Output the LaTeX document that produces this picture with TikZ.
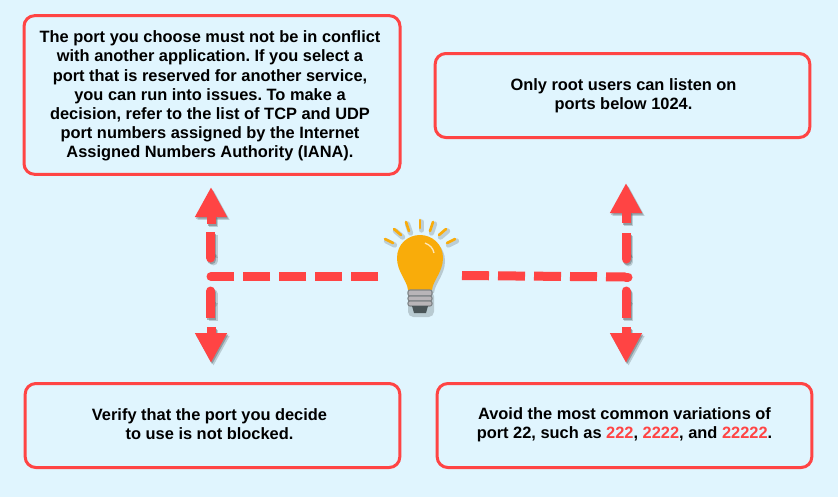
\documentclass[tikz,border=0pt]{standalone}
\usepackage{fontspec}
\setmainfont{Liberation Sans}
\usetikzlibrary{arrows.meta}
\definecolor{bg}{HTML}{E0F5FE}
\definecolor{redc}{HTML}{FF4444}
\definecolor{bulb}{HTML}{F9AC0A}
\definecolor{socket}{HTML}{B9B5B8}
\definecolor{sockline}{HTML}{7F8487}
\definecolor{capc}{HTML}{4A5558}
\tikzset{
  msgbox/.style={draw=redc,line width=2.25pt,rounded corners=8pt,fill=bg,inner sep=0pt},
  msgtext/.style={inner sep=0pt,align=center,font=\fontsize{12.3pt}{14.4pt}\selectfont\bfseries\frenchspacing,text=black},
  seg/.style={draw=redc,line width=6.75pt},
  rnd/.style={seg,line cap=round},
  arr/.style={seg,-{Triangle[length=22.5pt,width=22.5pt]}},
  shadowa/.style={opacity=.3,transform canvas={xshift=1.9pt,yshift=-2.2pt}},
  shadowb/.style={opacity=.5,transform canvas={xshift=.8pt,yshift=-1.3pt}},
  ray/.style={draw=bulb,line width=2pt,line cap=round},
  rayshadow/.style={draw=black!45!bg,line width=4pt,line cap=round,opacity=.35},
}
\newcommand{\vparts}[1]{%
  \begin{scope}[#1]
    \draw[arr] (lua) -- (lup);
    \draw[arr] (lda) -- (ldn);
    \draw[seg] (lus) -- (lum); \draw[rnd] (lum) -- (lue);
    \draw[seg] (lde) -- (ldm); \draw[rnd] (ldm) -- (lds);
    \draw[arr] (rua) -- (rup);
    \draw[arr] (rda) -- (rdn);
    \draw[seg] (rus) -- (rum); \draw[rnd] (rum) -- (rue);
    \draw[seg] (rde) -- (rdm); \draw[rnd] (rdm) -- (rds);
  \end{scope}}
\newcommand{\globepath}{(408,290) .. controls (407,280) and (397,272) .. (397,258)
  .. controls (397,244) and (408,235) .. (420,235)
  .. controls (432,235) and (443,244) .. (443,258)
  .. controls (443,272) and (433,280) .. (432,290) -- cycle}
\begin{document}
\begin{tikzpicture}[x=0.75pt,y=-0.75pt]
\useasboundingbox (0,0) rectangle (838,497);
\fill[bg] (0,0) rectangle (838,497);

\node[msgbox,minimum width=282pt,minimum height=119pt] (tl) at (212,95) {};
\node[msgbox,minimum width=281pt,minimum height=63pt] (tr) at (622.5,95.5) {};
\node[msgbox,minimum width=281pt,minimum height=63pt] (bl) at (212.5,425.5) {};
\node[msgbox,minimum width=281pt,minimum height=63pt] (br) at (624.5,425.5) {};
\node[msgtext] (tltext) at (210,96)
 {The port you choose must not be in conflict\\with another application. If you select a\\port that is reserved for another service,\\you can run into issues. To make a\\decision, refer to the list of TCP and UDP\\port numbers assigned by the Internet\\Assigned Numbers Authority (IANA).};
\node[msgtext] (trtext) at (623.5,96)
 {Only root users can listen on\\ports below 1024.};
\node[msgtext] (bltext) at (209.5,424)
 {Verify that the port you decide\\to use is not blocked.};
\node[msgtext] (brtext) at (624.5,424.5)
 {Avoid the most common variations of\\port 22, such as \textcolor{redc}{222}, \textcolor{redc}{2222}, and \textcolor{redc}{22222}.};

% hub coordinates
\coordinate (hl) at (211,276.5);
\coordinate (hlm) at (212,276.5);
\coordinate (hle) at (378,276.5);
\coordinate (hrs) at (462,275.5);
\coordinate (hrm) at (626,277);
\coordinate (hre) at (628,277);
% left verticals
\coordinate (lup) at (211,187); \coordinate (lua) at (211,224);
\coordinate (lus) at (210.7,232); \coordinate (lum) at (210.7,255); \coordinate (lue) at (210.7,258);
\coordinate (ldn) at (211,363); \coordinate (lda) at (211,327);
\coordinate (lds) at (210.7,291); \coordinate (ldm) at (210.7,300); \coordinate (lde) at (210.7,318);
% right verticals
\coordinate (rup) at (626,183); \coordinate (rua) at (626,223);
\coordinate (rus) at (626,233); \coordinate (rum) at (626,255); \coordinate (rue) at (626,259);
\coordinate (rdn) at (626,363); \coordinate (rda) at (626,327);
\coordinate (rds) at (626,291); \coordinate (rdm) at (626,300); \coordinate (rde) at (626,318);

% soft shadows
\colorlet{keepred}{redc}
\colorlet{redc}{black!55!bg}
\vparts{shadowa}
\vparts{shadowb}
\colorlet{redc}{keepred}
\vparts{}

% horizontal dashes
\draw[rnd] (hl) -- (hlm);
\draw[seg,dash pattern=on 20.25pt off 6.75pt] (hle) -- (hlm);
\draw[seg,dash pattern=on 20.25pt off 6.75pt] (hrs) -- (hrm);
\draw[rnd] (hrm) -- (hre);

% bulb
\begin{scope}[shift={(2,3)},opacity=.35]
  \fill[black!50!bg] \globepath;
  \fill[black!50!bg,rounded corners=4pt] (406,288) rectangle (432,314);
\end{scope}
\foreach \a/\b/\c/\d in {385/239/393/243,394/229/401/235,406/222/409/231,420/220/420/228,433/222/430/231,446/229/439/235,455/239/447/243}{
  \draw[rayshadow] (\a+1.5,\b+2) -- (\c+1.5,\d+2);
  \draw[ray] (\a,\b) -- (\c,\d);
}
\fill[bulb] \globepath;
\draw[white!70!bulb,line width=1pt] (425,243) .. controls (430,245) and (433,248) .. (434,253);
\draw[sockline,fill=socket,line width=.8pt,rounded corners=1.5pt] (408,290) rectangle (432,296);
\draw[sockline,fill=socket,line width=.8pt,rounded corners=1.5pt] (408,296) rectangle (432,301);
\draw[sockline,fill=socket,line width=.8pt,rounded corners=1.5pt] (408,301) rectangle (432,306);
\fill[capc] (412,306) -- (428,306) -- (426,313) -- (414,313) -- cycle;
\end{tikzpicture}
\end{document}
